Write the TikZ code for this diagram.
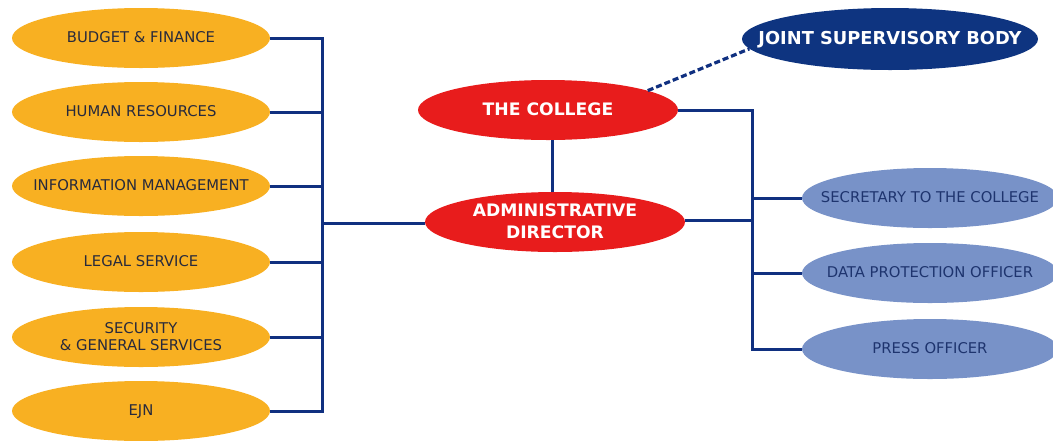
\documentclass[tikz,border=0pt]{standalone}
\usepackage{fontspec}
\setmainfont{DejaVu Sans}
\usetikzlibrary{shapes.geometric}
\definecolor{orgfill}{RGB}{248,176,34}
\definecolor{redfill}{RGB}{232,28,28}
\definecolor{navyfill}{RGB}{14,52,128}
\definecolor{lbluefill}{RGB}{120,146,200}
\definecolor{linecol}{RGB}{16,48,128}
\definecolor{darktext}{RGB}{40,42,60}
\definecolor{bluetext}{RGB}{30,52,110}
\newcommand{\zwtext}[1]{\raisebox{-5pt}[0pt][0pt]{\makebox[0pt][c]{\begin{tabular}{@{}c@{}}#1\end{tabular}}}}
\tikzset{
  unitbox/.style={ellipse, inner sep=0pt, align=center},
  orgbox/.style={unitbox, fill=orgfill, minimum width=258pt, minimum height=60pt, text=darktext, font=\fontsize{14.8}{17}\selectfont},
  redbox/.style={unitbox, fill=redfill, minimum width=260pt, minimum height=60pt, text=white, font=\fontsize{17.2}{22}\selectfont\bfseries},
  navybox/.style={unitbox, fill=navyfill, minimum width=296pt, minimum height=62pt, text=white, font=\fontsize{17.8}{22}\selectfont\bfseries},
  bluebox/.style={unitbox, fill=lbluefill, minimum width=256pt, minimum height=60pt, text=bluetext, font=\fontsize{14.8}{17}\selectfont},
  link/.style={draw=linecol, line width=3pt},
  dashlink/.style={draw=linecol, line width=3.2pt, dash pattern=on 6pt off 3pt},
}
\begin{document}
\begin{tikzpicture}[x=1pt, y=-1pt]
\useasboundingbox (0,0) rectangle (1053,440);
% left units
\node[orgbox] (bf) at (141,38) {\zwtext{BUDGET \& FINANCE}};
\node[orgbox] (hr) at (141,112) {\zwtext{HUMAN RESOURCES}};
\node[orgbox] (im) at (141,186) {\zwtext{INFORMATION MANAGEMENT}};
\node[orgbox] (ls) at (141,262) {\zwtext{LEGAL SERVICE}};
\node[orgbox] (sg) at (141,337) {\zwtext{SECURITY\\\& GENERAL SERVICES}};
\node[orgbox] (ejn) at (141,411) {\zwtext{EJN}};
% centre
\node[redbox] (col) at (548,110) {\zwtext{THE COLLEGE}};
\node[redbox] (ad) at (555,222) {\zwtext{ADMINISTRATIVE\\DIRECTOR}};
\node[navybox] (jsb) at (890,39) {\zwtext{JOINT SUPERVISORY BODY}};
% right units
\node[bluebox] (sec) at (930,198) {\zwtext{SECRETARY TO THE COLLEGE}};
\node[bluebox] (dpo) at (930,273) {\zwtext{DATA PROTECTION OFFICER}};
\node[bluebox] (po) at (930,349) {\zwtext{PRESS OFFICER}};
% junction coordinates
\coordinate (lbus) at (322,223);
\coordinate (rbus) at (752,220);
\coordinate (vx) at (552,0);
% left tree
\draw[link] (bf.east) -| (lbus);
\draw[link] (ejn.east) -| (lbus);
\draw[link] (hr.east) -- (hr.east -| lbus);
\draw[link] (im.east) -- (im.east -| lbus);
\draw[link] (ls.east) -- (ls.east -| lbus);
\draw[link] (sg.east) -- (sg.east -| lbus);
\draw[link] (lbus) -- (lbus -| ad.west);
% centre
\draw[link] (col.south -| vx) -- (ad.north -| vx);
\draw[link] (col.east) -| (rbus);
\draw[link] (po.west) -| (rbus);
\draw[link] (ad.east |- rbus) -- (rbus);
\draw[link] (sec.west) -- (sec.west -| rbus);
\draw[link] (dpo.west) -- (dpo.west -| rbus);
\draw[dashlink] (col.11) -- (jsb.184);
\end{tikzpicture}
\end{document}
